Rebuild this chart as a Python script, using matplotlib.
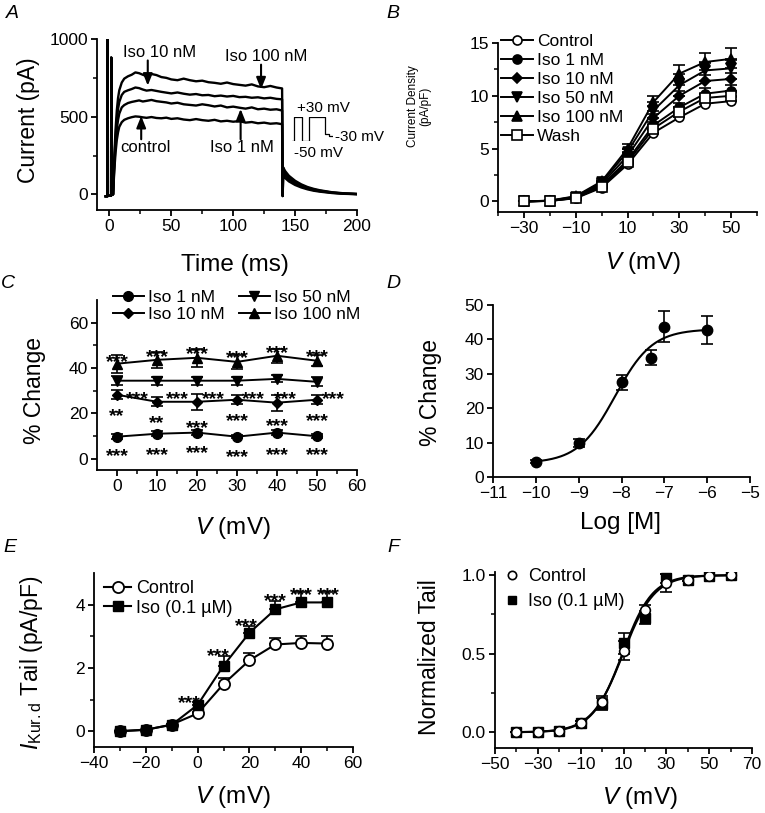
import numpy as np
import matplotlib
matplotlib.use('Agg')
import matplotlib.pyplot as plt
from matplotlib.lines import Line2D

plt.rcParams['font.family'] = ['Liberation Sans', 'DejaVu Sans']
plt.rcParams['mathtext.fontset'] = 'custom'
plt.rcParams['mathtext.rm'] = 'Liberation Sans'
plt.rcParams['mathtext.it'] = 'Liberation Sans:italic'
plt.rcParams['axes.linewidth'] = 1.3

W, H = 765, 813

### Panel A: current traces (pA)
t_pre = [-3, -1.6, -1.5, -1.4, 1.4, 1.5, 1.6, 3]
i_pre = [-12, -12, 1000, -8, -8, 880, 20, 0]
t_step = [3, 4, 5, 6, 7, 8, 10, 12, 15, 18, 21, 24, 27, 30, 34, 38, 42, 46, 50, 55,
          60, 65, 70, 75, 80, 85, 90, 95, 100, 105, 110, 115, 120, 125, 130, 135, 139.5]
i_iso100 = [0, 250, 420, 540, 620, 670, 720, 745, 760, 770, 785, 780, 770, 762, 775, 768, 755, 750, 740, 735,
            745, 735, 728, 732, 722, 718, 712, 720, 710, 705, 700, 708, 695, 690, 698, 688, 682]
i_iso10 = [0, 220, 370, 480, 550, 595, 640, 660, 670, 678, 688, 684, 675, 668, 672, 666, 660, 655, 650, 656,
           648, 642, 646, 638, 640, 632, 636, 630, 634, 626, 628, 622, 625, 618, 622, 615, 612]
i_iso1 = [0, 190, 320, 420, 480, 520, 560, 575, 588, 595, 600, 605, 598, 602, 608, 600, 596, 592, 585, 590,
          580, 576, 572, 580, 574, 566, 572, 560, 565, 558, 552, 560, 548, 552, 545, 548, 540]
i_ctrl = [0, 160, 270, 350, 400, 435, 465, 480, 490, 497, 502, 500, 496, 493, 498, 492, 490, 494, 486, 490,
          482, 478, 485, 478, 474, 480, 470, 474, 468, 472, 462, 466, 458, 462, 455, 458, 452]
t_tail = [140.3, 142, 145, 150, 155, 160, 165, 170, 180, 190, 200]
tail_iso100 = [175, 150, 120, 88, 65, 48, 36, 27, 14, 7, 3]
tail_iso10 = [160, 138, 110, 80, 59, 43, 32, 24, 12, 6, 3]
tail_iso1 = [140, 122, 97, 71, 52, 38, 28, 21, 11, 5, 2]
tail_ctrl = [120, 105, 84, 61, 45, 33, 24, 18, 9, 4, 2]
# voltage protocol sketch (ms, mV)
prot_t = [-2, 0, 0, 8, 8, 15, 15, 32, 32, 36, 36, 40]
prot_v = [-50, -50, 30, 30, -50, -50, 30, 30, -27, -27, -33, -33]

### Panel B: current density (pA/pF)
v_b = [-30, -20, -10, 0, 10, 20, 30, 40, 50]
b_ctrl = [0, 0.05, 0.3, 1.3, 3.5, 6.5, 7.95, 9.25, 9.5]
b_iso1 = [0, 0.05, 0.35, 1.5, 3.9, 7.2, 8.9, 10.2, 10.5]
b_iso10 = [0, 0.06, 0.4, 1.65, 4.3, 7.9, 10.0, 11.4, 11.6]
b_iso50 = [0, 0.07, 0.45, 1.8, 4.7, 8.6, 11.0, 12.4, 12.6]
b_iso100 = [0, 0.08, 0.5, 1.9, 5.0, 9.4, 12.1, 13.2, 13.5]
b_wash = [0, 0.05, 0.32, 1.4, 3.7, 6.9, 8.5, 9.8, 10.0]
b_err_ctrl = [0, 0, 0.05, 0.1, 0.2, 0.3, 0.35, 0.4, 0.4]
b_err_iso1 = [0, 0, 0.05, 0.1, 0.25, 0.35, 0.4, 0.5, 0.5]
b_err_iso10 = [0, 0, 0.05, 0.15, 0.3, 0.4, 0.5, 0.6, 0.6]
b_err_iso50 = [0, 0, 0.05, 0.15, 0.3, 0.45, 0.6, 0.7, 0.8]
b_err_iso100 = [0, 0.02, 0.1, 0.2, 0.4, 0.55, 0.8, 0.85, 1.0]
b_err_wash = [0, 0, 0.05, 0.1, 0.2, 0.3, 0.35, 0.4, 0.4]

### Panel C: % change
v_c = [0, 10, 20, 30, 40, 50]
c_iso1 = [9.7, 11.0, 11.5, 9.7, 11.5, 9.9]
c_iso10 = [28.2, 25.1, 25.1, 26.0, 24.7, 26.0]
c_iso50 = [34.4, 34.4, 34.4, 34.4, 35.2, 33.9]
c_iso100 = [41.9, 43.6, 44.5, 42.7, 45.4, 43.2]
c_err_iso1 = [1.0, 1.2, 1.2, 0.8, 1.2, 0.8]
c_err_iso10 = [2.0, 2.0, 3.5, 2.0, 3.5, 2.0]
c_err_iso50 = [2.0, 1.8, 1.8, 1.8, 1.5, 2.0]
c_err_iso100 = [4.0, 3.5, 4.0, 3.0, 3.0, 2.5]
c_star100_y = [45.8, 48.0, 49.3, 47.6, 49.8, 48.0]
c_star50_x = [5, 15, 24, 34, 42, 54]
c_star50_y = [29.5, 29.5, 29.5, 29.5, 29.5, 29.5]
c_star10_y = [21.6, 18.5, 16.3, 19.8, 17.2, 19.8]
c_star10_txt = ['**', '**', '***', '***', '***', '***']
c_star1_y = [4.0, 4.8, 5.3, 3.5, 4.8, 4.4]

### Panel D: concentration-response
logc = [-10, -9, -8, -7.3, -7, -6]
d_pct = [4.5, 9.8, 27.5, 34.7, 43.7, 42.7]
d_err = [0.5, 1.2, 2.2, 2.2, 4.6, 4.1]
hill_bottom, hill_top, hill_logec50, hill_slope = 4.0, 43.0, -8.15, 1.0

### Panel E: I_Kur,d tail
v_e = [-30, -20, -10, 0, 10, 20, 30, 40, 50]
e_ctrl = [0.0, 0.04, 0.21, 0.56, 1.49, 2.24, 2.74, 2.79, 2.77]
e_iso = [0.0, 0.05, 0.2, 0.83, 2.07, 3.11, 3.85, 4.07, 4.07]
e_err_ctrl = [0, 0, 0.03, 0.05, 0.2, 0.23, 0.21, 0.22, 0.23]
e_err_iso = [0, 0, 0.03, 0.08, 0.3, 0.23, 0.27, 0.32, 0.32]
e_star_x = [-3, 8, 19, 30, 40, 50.5]
e_star_y = [1.09, 2.58, 3.53, 4.33, 4.51, 4.51]

### Panel F: normalized tail
v_f = [-40, -30, -20, -10, 0, 10, 20, 30, 40, 50, 60]
f_ctrl = [0, 0, 0.01, 0.06, 0.19, 0.52, 0.78, 0.95, 0.97, 0.995, 1.0]
f_iso = [0, 0, 0.01, 0.06, 0.18, 0.565, 0.73, 0.98, 0.97, 0.995, 1.0]
f_err_ctrl = [0, 0, 0, 0.01, 0.04, 0.06, 0.03, 0.06, 0.01, 0, 0]
f_err_iso = [0, 0, 0, 0.01, 0.04, 0.065, 0.04, 0.03, 0.01, 0, 0]
boltz_ctrl = (9.8, 7.3)
boltz_iso = (9.5, 7.0)


fig = plt.figure(figsize=(W / 100, H / 100), dpi=100)


def make_ax(l, t, r, b):
    return fig.add_axes([l / W, 1 - b / H, (r - l) / W, (b - t) / H])


def style(ax):
    for s in ['top', 'right']:
        ax.spines[s].set_visible(False)
    ax.tick_params(which='major', direction='out', length=4.5, width=1.3, labelsize=12.5, pad=2)
    ax.tick_params(which='minor', direction='out', length=3, width=1.1)


def ftext(px, py, s, **kw):
    kw.setdefault('ha', 'center')
    kw.setdefault('va', 'center')
    fig.text(px / W, 1 - py / H, s, **kw)


def stars(ax, x, y, s, size=14):
    ax.annotate(s, (x, y), xytext=(0, -8.5), textcoords='offset points',
                ha='center', va='baseline', fontsize=size, fontweight='bold', annotation_clip=False)


lab = 16.5

# ---------------- A
axA = make_ax(97, 39, 357, 210)
style(axA)
for tr, tl in [(i_ctrl, tail_ctrl), (i_iso1, tail_iso1), (i_iso10, tail_iso10), (i_iso100, tail_iso100)]:
    tt = t_pre + t_step + [140.0] + t_tail
    ii = i_pre + tr + [-10] + tl
    axA.plot(tt, ii, color='k', lw=1.7)
axA.set_xlim(-10, 200)
axA.set_ylim(-100, 1000)
axA.set_xticks([0, 50, 100, 150, 200])
axA.set_xticks(np.arange(0, 201, 25), minor=True)
axA.set_yticks([0, 500, 1000])
axA.set_yticks([250, 750], minor=True)
ap = dict(arrowstyle='-|>,head_width=0.28,head_length=0.7', color='k', lw=1.5, shrinkA=0, shrinkB=0)
axA.text(40.5, 910, 'Iso 10 nM', ha='center', va='center', fontsize=12)
axA.annotate('', xy=(31, 700), xytext=(31, 862), arrowprops=ap)
axA.text(126.5, 887, 'Iso 100 nM', ha='center', va='center', fontsize=12)
axA.annotate('', xy=(122.5, 676), xytext=(122.5, 835), arrowprops=ap)
axA.text(29, 300, 'control', ha='center', va='center', fontsize=12)
axA.annotate('', xy=(25.7, 505), xytext=(25.7, 355), arrowprops=ap)
axA.text(107, 300, 'Iso 1 nM', ha='center', va='center', fontsize=12)
axA.annotate('', xy=(106, 550), xytext=(106, 355), arrowprops=ap)
axA.text(172.7, 558, '+30 mV', ha='center', va='center', fontsize=11)
axA.text(168.7, 265, '-50 mV', ha='center', va='center', fontsize=11)
axA.text(182, 372, '-30 mV', ha='left', va='center', fontsize=11, clip_on=False)
axP = make_ax(292, 117, 333, 141)
axP.plot(prot_t, prot_v, color='k', lw=0.9)
axP.set_xlim(-2, 40)
axP.set_ylim(-50, 30)
axP.axis('off')
ftext(29, 120, 'Current (pA)', rotation=90, fontsize=lab)
ftext(235, 265, 'Time (ms)', fontsize=lab + 1)
ftext(12, 14, 'A', fontsize=14, style='italic')

# ---------------- B
axB = make_ax(498, 43, 757, 212)
style(axB)
series_b = [('Control', b_ctrl, b_err_ctrl, 'o', 'white', 6.5),
            ('Iso 1 nM', b_iso1, b_err_iso1, 'o', 'k', 6.5),
            ('Iso 10 nM', b_iso10, b_err_iso10, 'D', 'k', 5.5),
            ('Iso 50 nM', b_iso50, b_err_iso50, 'v', 'k', 7),
            ('Iso 100 nM', b_iso100, b_err_iso100, '^', 'k', 7),
            ('Wash', b_wash, b_err_wash, 's', 'white', 6.5)]
handles = []
for name, yy, ee, mk, fc, ms in series_b:
    axB.errorbar(v_b, yy, yerr=[np.zeros(len(ee)), ee], fmt='none', ecolor='k', elinewidth=1.2,
                 capsize=4, capthick=1.2, zorder=2)
    h, = axB.plot(v_b, yy, marker=mk, ms=ms, mfc=fc, mec='k', mew=1.2, color='k', lw=1.4,
                  label=name, zorder=3, clip_on=False)
    handles.append(h)
axB.set_xlim(-40, 60)
axB.set_ylim(-1, 15)
axB.set_xticks([-30, -10, 10, 30, 50])
axB.set_xticks(np.arange(-40, 61, 10), minor=True)
axB.set_yticks([0, 5, 10, 15])
axB.set_yticks([2.5, 7.5, 12.5], minor=True)
axB.legend(handles=handles, loc='upper left', bbox_to_anchor=(0.0, 1.075), frameon=False,
           fontsize=12.5, handlelength=1.8, handletextpad=0.25, labelspacing=0.22, borderpad=0,
           borderaxespad=0.2)
ftext(419, 106, 'Current Density\n(pA/pF)', rotation=90, fontsize=8.5, linespacing=1.1)
ftext(643, 263, r'$V$ (mV)', fontsize=lab + 1)
ftext(393, 13, 'B', fontsize=14, style='italic')

# ---------------- C
axC = make_ax(97, 300, 357, 470)
style(axC)
series_c = [('Iso 1 nM', c_iso1, c_err_iso1, 'o', 7),
            ('Iso 10 nM', c_iso10, c_err_iso10, 'D', 5.5),
            ('Iso 50 nM', c_iso50, c_err_iso50, 'v', 7.5),
            ('Iso 100 nM', c_iso100, c_err_iso100, '^', 7.5)]
hc = []
for name, yy, ee, mk, ms in series_c:
    axC.errorbar(v_c, yy, yerr=ee, fmt='none', ecolor='k', elinewidth=1.2, capsize=4, capthick=1.2)
    h, = axC.plot(v_c, yy, marker=mk, ms=ms, color='k', lw=1.4, label=name)
    hc.append(h)
for x, y in zip(v_c, c_star100_y):
    stars(axC, x, y, '***')
for x, y in zip(c_star50_x, c_star50_y):
    stars(axC, x, y, '***')
for x, y, s in zip(v_c, c_star10_y, c_star10_txt):
    stars(axC, x, y, s)
for x, y in zip(v_c, c_star1_y):
    stars(axC, x, y, '***')
axC.set_xlim(-5, 60)
axC.set_ylim(-5, 70)
axC.set_xticks(np.arange(0, 61, 10))
axC.set_xticks(np.arange(0, 61, 5), minor=True)
axC.set_yticks([0, 20, 40, 60])
axC.set_yticks([10, 30, 50], minor=True)
axC.legend(handles=hc, ncol=2, loc='upper left', bbox_to_anchor=(0.06, 1.06),
           frameon=False, fontsize=12.5, handlelength=1.8, handletextpad=0.25, labelspacing=0.12,
           columnspacing=0.8, borderpad=0, borderaxespad=0)
ftext(35, 390, '% Change', rotation=90, fontsize=lab)
ftext(233, 528, r'$V$ (mV)', fontsize=lab + 1)
ftext(8, 283, 'C', fontsize=14, style='italic')

# ---------------- D
axD = make_ax(493, 305, 750, 477)
style(axD)
xfit = np.linspace(-10, -6, 200)
yfit = hill_bottom + (hill_top - hill_bottom) / (1 + 10 ** ((hill_logec50 - xfit) * hill_slope))
axD.plot(xfit, yfit, color='k', lw=1.5)
axD.errorbar(logc, d_pct, yerr=d_err, fmt='o', ms=7.5, color='k', elinewidth=1.2, capsize=4, capthick=1.2)
axD.set_xlim(-11, -5)
axD.set_ylim(0, 50)
axD.set_xticks(np.arange(-11, -4, 1))
axD.set_yticks(np.arange(0, 51, 10))
ftext(430, 392, '% Change', rotation=90, fontsize=lab)
ftext(620, 523, 'Log [M]', fontsize=lab + 1)
ftext(393, 283, 'D', fontsize=14, style='italic')

# ---------------- E
axE = make_ax(94, 573, 353, 747)
style(axE)
axE.errorbar(v_e, e_ctrl, yerr=[np.zeros(9), e_err_ctrl], fmt='none', ecolor='k', elinewidth=1.2,
             capsize=4, capthick=1.2)
axE.errorbar(v_e, e_iso, yerr=[np.zeros(9), e_err_iso], fmt='none', ecolor='k', elinewidth=1.2,
             capsize=4, capthick=1.2)
h1, = axE.plot(v_e, e_ctrl, marker='o', ms=8, mfc='white', mec='k', mew=1.3, color='k', lw=1.5,
               label='Control', zorder=3)
h2, = axE.plot(v_e, e_iso, marker='s', ms=7.5, color='k', lw=1.5, label='Iso (0.1 µM)', zorder=3)
for x, y in zip(e_star_x, e_star_y):
    stars(axE, x, y, '***')
axE.set_xlim(-40, 60)
axE.set_ylim(-0.5, 5)
axE.set_xticks(np.arange(-40, 61, 20))
axE.set_xticks(np.arange(-40, 61, 10), minor=True)
axE.set_yticks([0, 2, 4])
axE.set_yticks([1, 3], minor=True)
axE.legend(handles=[h1, h2], loc='upper left', bbox_to_anchor=(0.04, 0.96), frameon=False, fontsize=13,
           handlelength=1.5, handletextpad=0.25, labelspacing=0.15, borderpad=0, borderaxespad=0)
ftext(32, 663, r'$I_{\mathrm{Kur.d}}$ Tail (pA/pF)', rotation=90, fontsize=lab)
ftext(233, 797, r'$V$ (mV)', fontsize=lab + 1)
ftext(10, 547, 'E', fontsize=14, style='italic')

# ---------------- F
axF = make_ax(495, 572, 752, 748)
style(axF)
vfit = np.linspace(-40, 60, 300)
for vh, k in [boltz_iso, boltz_ctrl]:
    axF.plot(vfit, 1 / (1 + np.exp((vh - vfit) / k)), color='k', lw=1.5)
axF.errorbar(v_f, f_iso, yerr=f_err_iso, fmt='s', ms=7, color='k', elinewidth=1.2, capsize=4,
             capthick=1.2)
axF.errorbar(v_f, f_ctrl, yerr=f_err_ctrl, fmt='o', ms=7, mfc='white', mec='k', mew=1.2, color='k',
             elinewidth=1.2, capsize=4, capthick=1.2)
hf1 = Line2D([], [], ls='none', marker='o', ms=6, mfc='white', mec='k', mew=1.2)
hf2 = Line2D([], [], ls='none', marker='s', ms=6, color='k')
axF.legend([hf1, hf2], ['Control', 'Iso (0.1 µM)'], loc='upper left', bbox_to_anchor=(0.03, 1.02),
           frameon=False, fontsize=13, handlelength=1.0, handletextpad=0.4, labelspacing=0.42,
           borderpad=0, borderaxespad=0)
axF.set_xlim(-50, 70)
axF.set_ylim(-0.1, 1.02)
axF.set_xticks(np.arange(-50, 71, 20))
axF.set_xticks(np.arange(-50, 71, 10), minor=True)
axF.set_yticks([0, 0.5, 1.0])
axF.set_yticks([0.25, 0.75], minor=True)
axF.set_yticklabels(['0.0', '0.5', '1.0'])
ftext(430, 657, 'Normalized Tail', rotation=90, fontsize=lab)
ftext(640, 798, r'$V$ (mV)', fontsize=lab + 1)
ftext(393, 547, 'F', fontsize=14, style='italic')

fig.savefig('out.png', dpi=100)
